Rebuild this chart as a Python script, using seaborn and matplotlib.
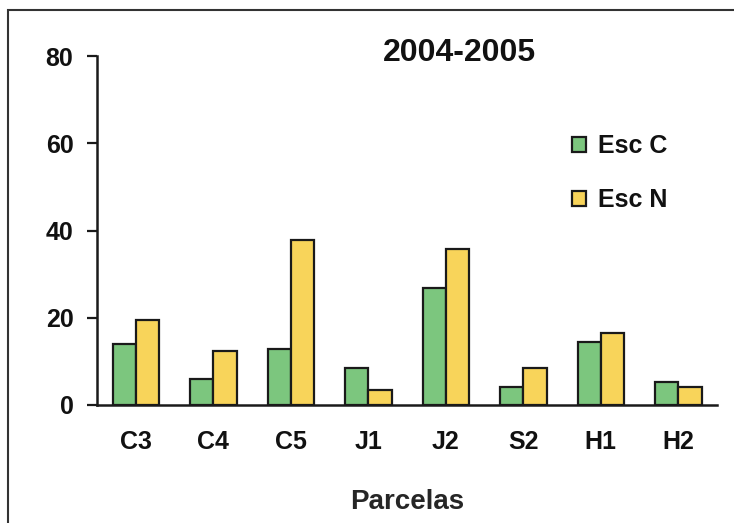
import numpy as np
import pandas as pd
import matplotlib
matplotlib.use('Agg')
import matplotlib.pyplot as plt
import seaborn as sns
from matplotlib.patches import Rectangle

# Datos
parcelas = ['C3', 'C4', 'C5', 'J1', 'J2', 'S2', 'H1', 'H2']
esc_c = [14.0, 6.0, 12.8, 8.5, 26.8, 4.1, 14.4, 5.3]
esc_n = [19.5, 12.3, 37.8, 3.4, 35.8, 8.5, 16.5, 4.1]
series = ['Esc C', 'Esc N']

data = pd.DataFrame({
    'Parcela': parcelas * 2,
    'Valor': esc_c + esc_n,
    'Serie': [series[0]] * len(parcelas) + [series[1]] * len(parcelas)
})

sns.set_style('white')
plt.rcParams['font.family'] = ['Liberation Sans', 'DejaVu Sans']
plt.rcParams['font.weight'] = 'bold'
plt.rcParams['text.color'] = '#111111'
plt.rcParams['xtick.color'] = '#111111'
plt.rcParams['ytick.color'] = '#111111'

fig = plt.figure(figsize=(7.34, 5.23), dpi=100)
ax = fig.add_axes([97 / 734, 1 - 405 / 523, 620 / 734, 349 / 523])

colores = {'Esc C': '#7cc67e', 'Esc N': '#f8d45a'}
sns.barplot(data=data, x='Parcela', y='Valor', hue='Serie', order=parcelas,
            hue_order=series, palette=colores, width=0.6, gap=0,
            edgecolor='#1a1a1a', linewidth=1.6, saturation=1, ax=ax)

ax.set_xlim(-0.5, len(parcelas) - 0.5)
ax.set_ylim(0, 80)
ax.set_yticks([0, 20, 40, 60, 80])

# marcas del eje x entre categorías
ax.set_xticks(np.arange(-0.5, len(parcelas), 1.0), minor=True)
ax.tick_params(axis='x', which='major', length=0, pad=18, labelsize=18)
ax.tick_params(axis='x', which='minor', length=7, width=1.6, color='#1a1a1a', direction='out')
ax.tick_params(axis='y', length=7, width=1.6, color='#1a1a1a', direction='out', pad=10, labelsize=18)
ax.tick_params(bottom=True, left=True)

for s in ['top', 'right']:
    ax.spines[s].set_visible(False)
for s in ['left', 'bottom']:
    ax.spines[s].set_color('#1a1a1a')
    ax.spines[s].set_linewidth(1.8)

ax.set_ylabel('')
ax.set_xlabel('Parcelas', fontsize=20, fontweight='bold', labelpad=25)
for lbl in ax.get_xticklabels() + ax.get_yticklabels():
    lbl.set_fontweight('bold')

ax.text(0.585, 1.01, '2004-2005', transform=ax.transAxes, ha='center', va='center',
        fontsize=23, fontweight='bold')

leg = ax.legend(loc='center left', bbox_to_anchor=(0.73, 0.665), frameon=False,
                fontsize=18, handlelength=0.55, handleheight=0.55, handletextpad=0.5,
                labelspacing=1.2)
for t in leg.get_texts():
    t.set_fontweight('bold')

# marco de la figura
fig.patches.append(Rectangle((8 / 734, -0.1), 1.5, 1 - 10 / 523 + 0.1, transform=fig.transFigure,
                             fill=False, edgecolor='#333333', linewidth=1.5))

fig.savefig('out.png', dpi=100)
